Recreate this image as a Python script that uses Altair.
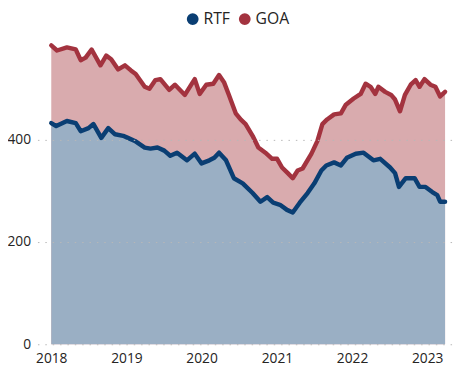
import altair as alt
import pandas as pd

goa_dates = [
    "2018-01-01", "2018-01-29", "2018-03-18", "2018-04-30", "2018-05-24", "2018-06-17",
    "2018-07-16", "2018-08-28", "2018-09-25", "2018-10-19", "2018-11-22", "2018-12-25",
    "2019-01-23", "2019-02-15", "2019-03-31", "2019-04-23", "2019-05-22", "2019-06-15",
    "2019-07-28", "2019-08-25", "2019-10-12", "2019-11-15", "2019-11-29", "2019-12-23",
    "2020-01-24", "2020-02-27", "2020-03-26", "2020-04-19", "2020-05-13", "2020-06-15",
    "2020-07-09", "2020-08-02", "2020-09-05", "2020-10-03", "2020-11-06", "2020-12-09",
    "2021-01-02", "2021-01-26", "2021-02-23", "2021-03-19", "2021-04-12", "2021-05-06",
    "2021-06-18", "2021-07-17", "2021-08-10", "2021-09-02", "2021-10-06", "2021-11-08",
    "2021-12-02", "2022-01-09", "2022-02-12", "2022-03-08", "2022-04-01", "2022-04-24",
    "2022-05-09", "2022-06-11", "2022-07-10", "2022-07-29", "2022-08-22", "2022-09-15",
    "2022-10-13", "2022-11-06", "2022-11-25", "2022-12-19", "2023-01-17", "2023-02-10",
    "2023-03-05", "2023-03-29",
]
goa_values = [
    585, 575, 581, 577, 556, 561,
    577, 546, 565, 558, 538, 546,
    536, 529, 504, 500, 517, 519,
    498, 508, 488, 510, 519, 490,
    508, 510, 527, 513, 488, 452,
    440, 431, 408, 385, 375, 363,
    363, 346, 335, 325, 340, 344,
    373, 398, 431, 440, 450, 452,
    469, 481, 490, 510, 504, 490,
    504, 494, 488, 479, 456, 488,
    508, 517, 504, 519, 508, 504,
    485, 494,
]

rtf_dates = [
    "2018-01-01", "2018-01-25", "2018-03-18", "2018-04-30", "2018-05-24", "2018-07-01",
    "2018-07-25", "2018-09-01", "2018-10-05", "2018-11-07", "2018-12-16", "2019-01-08",
    "2019-02-11", "2019-03-31", "2019-04-28", "2019-06-01", "2019-07-04", "2019-08-02",
    "2019-09-04", "2019-10-22", "2019-11-29", "2020-01-01", "2020-02-08", "2020-03-03",
    "2020-03-26", "2020-04-29", "2020-06-06", "2020-07-19", "2020-09-05", "2020-10-13",
    "2020-11-15", "2020-12-14", "2021-01-16", "2021-02-19", "2021-03-19", "2021-04-22",
    "2021-05-30", "2021-07-02", "2021-08-05", "2021-08-29", "2021-10-06", "2021-11-08",
    "2021-12-07", "2022-01-19", "2022-02-26", "2022-04-15", "2022-05-18", "2022-07-05",
    "2022-07-29", "2022-08-17", "2022-09-19", "2022-11-01", "2022-11-25", "2022-12-24",
    "2023-01-26", "2023-02-19", "2023-03-05", "2023-03-29",
]
rtf_values = [
    433, 427, 437, 433, 417, 423,
    431, 404, 423, 411, 408, 404,
    398, 385, 383, 385, 379, 369,
    375, 360, 373, 354, 360, 365,
    375, 360, 325, 315, 296, 279,
    288, 277, 273, 263, 258, 277,
    296, 315, 340, 350, 356, 350,
    365, 373, 375, 360, 363, 346,
    335, 308, 325, 325, 308, 308,
    298, 292, 279, 279,
]

series_names = ["RTF", "GOA"]
line_colors = ["#0a3e73", "#a3333f"]
area_colors = {"RTF": "#9aafc4", "GOA": "#d9abae"}
y_ticks = [0, 200, 400]
x_domain = ["2017-10-26", "2023-05-02"]

df = pd.concat([
    pd.DataFrame({"date": rtf_dates, "value": rtf_values, "series": "RTF"}),
    pd.DataFrame({"date": goa_dates, "value": goa_values, "series": "GOA"}),
])

font = "Open Sans"

x = alt.X("date:T", title=None,
          scale=alt.Scale(domain=x_domain),
          axis=alt.Axis(format="%Y", tickCount="year", grid=False, domain=False, ticks=False,
                        labelPadding=8, labelFontSize=14, labelColor="#252423", labelFont=font))
y = alt.Y("value:Q", title=None,
          scale=alt.Scale(domain=[0, 600]),
          axis=alt.Axis(values=y_ticks, grid=True, gridDash=[1.5, 6], gridColor="#b8b8b8",
                        gridWidth=1, domain=False, ticks=False, labelPadding=7, zindex=1,
                        labelFontSize=14, labelColor="#252423", labelFont=font))

base = alt.Chart(df)

area_goa = base.transform_filter(alt.datum.series == "GOA").mark_area(
    color=area_colors["GOA"], opacity=1).encode(x=x, y=y)
area_rtf = base.transform_filter(alt.datum.series == "RTF").mark_area(
    color=area_colors["RTF"], opacity=1).encode(x=x, y=y)

lines = base.mark_line(strokeWidth=4.5, strokeJoin="round", strokeCap="round").encode(
    x=x, y=y,
    color=alt.Color("series:N", sort=series_names,
                    scale=alt.Scale(domain=series_names, range=line_colors),
                    legend=alt.Legend(title=None, orient="none", direction="horizontal",
                                      legendX=150, legendY=-27, gridAlign="none",
                                      symbolType="circle", symbolSize=36, symbolStrokeWidth=6,
                                      labelFontSize=16, labelFont=font, labelColor="#252423",
                                      columnPadding=0, labelOffset=3)),
)

chart = alt.layer(area_goa, area_rtf, lines).properties(
    width=422, height=312,
    padding={"left": 30, "top": 27, "right": 4, "bottom": 25},
    autosize=alt.AutoSizeParams(type="none"),
).configure_view(stroke=None)

chart.save("out.html", embed_options={"renderer": "svg", "actions": False})
